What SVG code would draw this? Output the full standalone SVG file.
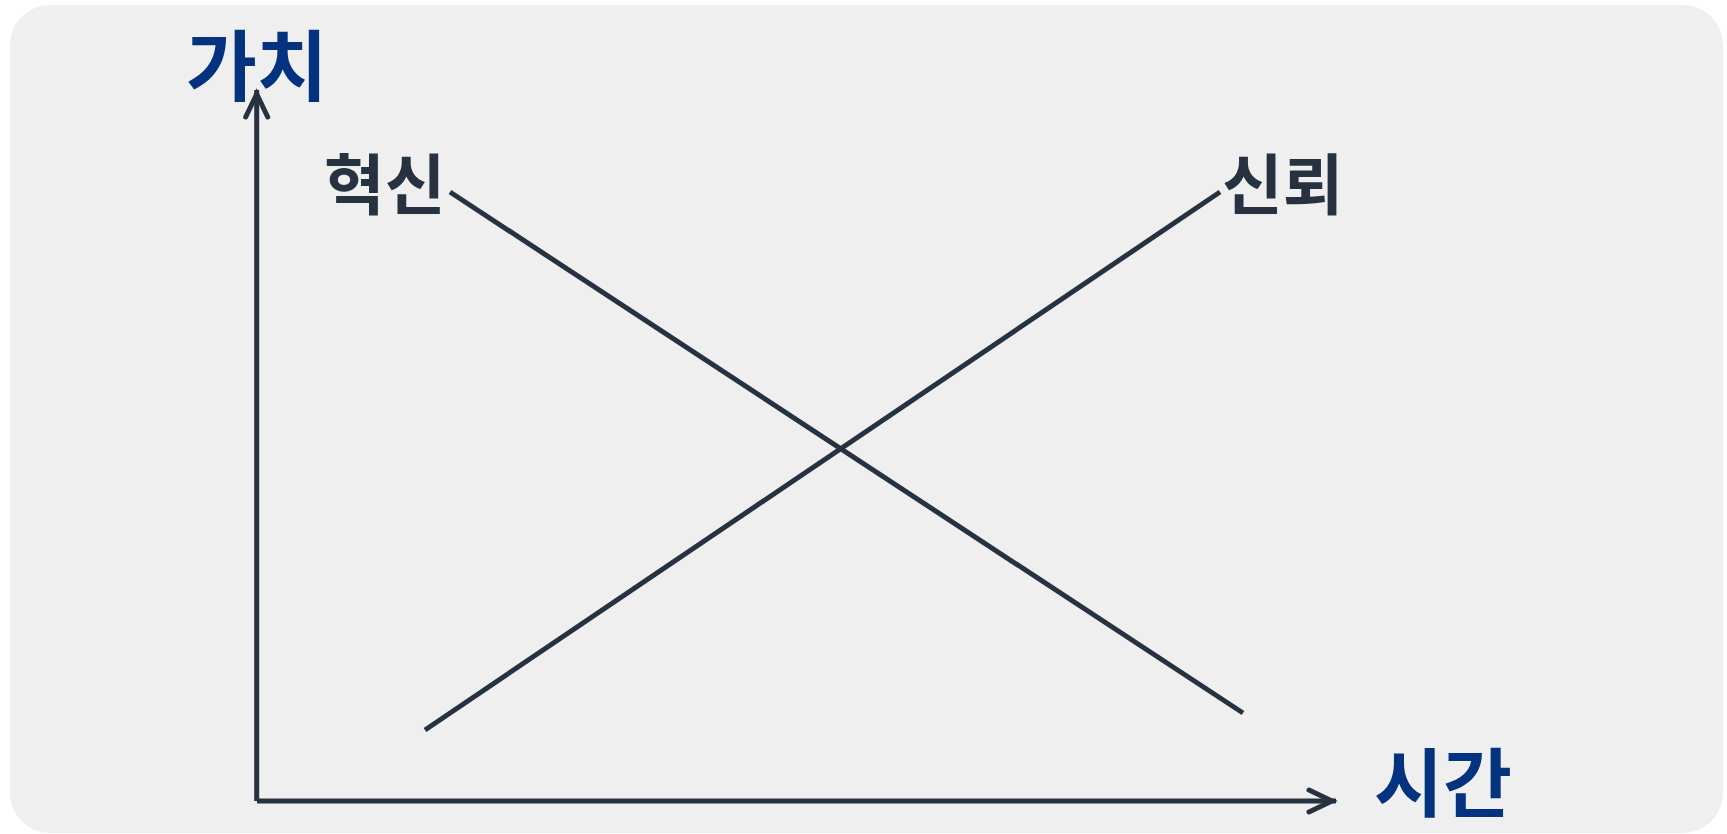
<svg xmlns="http://www.w3.org/2000/svg" width="1727" height="834" viewBox="0 0 1727 834">
  <style>
    .ax { stroke: #26323f; stroke-width: 5; fill: none; }
    .ln { stroke: #26323f; stroke-width: 5; fill: none; }
    .lbl-axis { font-family: "Noto Sans CJK KR", "Noto Sans", sans-serif; font-weight: 700; fill: #03337f; }
    .lbl-line { font-family: "Noto Sans CJK KR", "Noto Sans", sans-serif; font-weight: 700; fill: #26323f; }
  </style>
  <defs>
    <marker id="arr" markerUnits="userSpaceOnUse" orient="auto" refX="0" refY="0" markerWidth="40" markerHeight="40" viewBox="-40 -20 40 40" overflow="visible">
      <path d="M-27,-11 L-4,0 L-27,11" fill="none" stroke="#26323f" stroke-width="5" stroke-linecap="round" stroke-linejoin="miter"/>
    </marker>
  </defs>
  <rect x="0" y="0" width="1727" height="834" fill="#ffffff"/>
  <rect id="background" x="10" y="5" width="1713" height="828" rx="40" ry="40" fill="#efefef"/>

  <g id="connectors">
    <line id="y-axis" class="ax" x1="256.7" y1="801" x2="256.7" y2="90" marker-end="url(#arr)"/>
    <line id="x-axis" class="ax" x1="257" y1="801" x2="1336" y2="801" marker-end="url(#arr)"/>
    <line id="innovation-line" class="ln" x1="450" y1="192" x2="1243" y2="713"/>
    <line id="trust-line" class="ln" x1="425" y1="730" x2="1220" y2="192"/>
  </g>

  <g id="label-value">
    <text class="lbl-axis" x="186" y="95" font-size="77">가치</text>
  </g>
  <g id="label-innovation">
    <text class="lbl-line" x="324" y="209" font-size="66">혁신</text>
  </g>
  <g id="label-trust">
    <text class="lbl-line" x="1222" y="209" font-size="66">신뢰</text>
  </g>
  <g id="label-time">
    <text class="lbl-axis" x="1374" y="811" font-size="75">시간</text>
  </g>
</svg>
